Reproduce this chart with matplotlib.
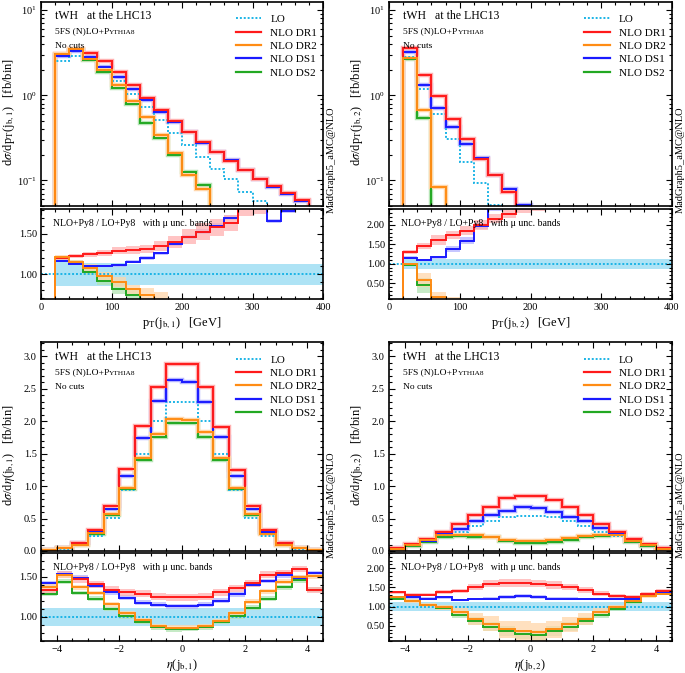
import numpy as np
import matplotlib
matplotlib.use("Agg")
import matplotlib.pyplot as plt
from matplotlib.lines import Line2D
from matplotlib.ticker import MultipleLocator, FormatStrFormatter, LogLocator, NullFormatter

plt.rcParams['font.family'] = ['Liberation Serif', 'DejaVu Serif']
plt.rcParams['mathtext.fontset'] = 'stix'
plt.rcParams['font.size'] = 7.5

# ---------------- data ----------------
pt_edges = list(range(0, 401, 20))
eta_edges = [-4.5, -4.0, -3.5, -3.0, -2.5, -2.0, -1.5, -1.0, -0.5, 0.0,
             0.5, 1.0, 1.5, 2.0, 2.5, 3.0, 3.5, 4.0, 4.5]

# pT(j_b,1)  [fb/bin]
pt1_lo = [0, 2.50, 2.91, 2.60, 2.00, 1.46, 1.03, 0.72, 0.51, 0.36, 0.26, 0.19, 0.137, 0.103, 0.074, 0.057, 0.04, 0.03, 0.025, 0.02]
pt1_dr1 = [0, 3.04, 3.51, 3.18, 2.50, 1.87, 1.33, 0.93, 0.68, 0.50, 0.37, 0.285, 0.215, 0.169, 0.133, 0.103, 0.086, 0.072, 0.059, 0.045]
pt1_dr2 = [0, 3.04, 3.51, 2.68, 2.00, 1.33, 0.866, 0.553, 0.34, 0.208, 0.116, 0.080, 0.03, 0.02, 0.02, 0.02, 0.02, 0.02, 0.02, 0.02]
pt1_ds1 = [0, 2.91, 3.36, 2.81, 2.18, 1.62, 1.19, 0.87, 0.64, 0.49, 0.37, 0.277, 0.215, 0.172, 0.133, 0.103, 0.084, 0.069, 0.057, 0.045]
pt1_ds2 = [0, 3.00, 3.42, 2.61, 1.86, 1.22, 0.79, 0.475, 0.317, 0.197, 0.126, 0.088, 0.03, 0.02, 0.02, 0.02, 0.02, 0.02, 0.02, 0.02]

# ratio NLO/LO for pT(j_b,1), with half-widths of the mu bands
r_pt1_dr1 = [0, 1.20, 1.225, 1.245, 1.265, 1.29, 1.30, 1.315, 1.35, 1.40, 1.465, 1.53, 1.58, 1.64, 1.86, 1.90, 2.05, 2.10, 2.20, 2.30]
w_pt1_dr1 = [0, 0.03, 0.03, 0.035, 0.04, 0.045, 0.05, 0.05, 0.06, 0.08, 0.09, 0.10, 0.10, 0.10, 0.14, 0.15, 0.20, 0.20, 0.20, 0.20]
r_pt1_ds1 = [0, 1.165, 1.125, 1.10, 1.10, 1.11, 1.155, 1.20, 1.26, 1.38, 1.465, 1.53, 1.60, 1.70, 1.85, 1.90, 1.655, 1.79, 1.95, 1.83]
w_pt1_ds1 = [0, 0.015, 0.015, 0.015, 0.015, 0.02, 0.02, 0.02, 0.02, 0.025, 0.025, 0.03, 0.03, 0.03, 0.04, 0.04, 0.025, 0.03, 0.04, 0.03]
r_pt1_dr2 = [0, 1.215, 1.15, 1.08, 0.975, 0.90, 0.81, 0.745, 0.62, 0.55, 0.4, 0.3, 0.3, 0.3, 0.3, 0.3, 0.3, 0.3, 0.3, 0.3]
w_pt1_dr2 = [0, 0.02, 0.03, 0.04, 0.05, 0.06, 0.06, 0.08, 0.16, 0.12, 0.1, 0.1, 0.1, 0.1, 0.1, 0.1, 0.1, 0.1, 0.1, 0.1]
r_pt1_ds2 = [0, 1.20, 1.14, 1.03, 0.92, 0.82, 0.745, 0.6, 0.4, 0.3, 0.3, 0.3, 0.3, 0.3, 0.3, 0.3, 0.3, 0.3, 0.3, 0.3]
w_pt1_ds2 = [0, 0.02, 0.03, 0.04, 0.05, 0.07, 0.08, 0.1, 0.1, 0.1, 0.1, 0.1, 0.1, 0.1, 0.1, 0.1, 0.1, 0.1, 0.1, 0.1]
lo_pt1_low = [1.0, 0.85, 0.85, 0.85, 0.85, 0.855, 0.86, 0.86, 0.87, 0.87, 0.87, 0.87, 0.87, 0.87, 0.87, 0.87, 0.87, 0.87, 0.87, 0.87]
lo_pt1_high = [1.0, 1.15, 1.15, 1.14, 1.14, 1.135, 1.13, 1.13, 1.125, 1.125, 1.125, 1.125, 1.125, 1.125, 1.125, 1.125, 1.125, 1.125, 1.125, 1.125]

# pT(j_b,2)  [fb/bin]
pt2_lo = [0, 2.85, 1.20, 0.61, 0.305, 0.166, 0.093, 0.052, 0.03, 0.02, 0.02, 0.02, 0.02, 0.02, 0.02, 0.02, 0.02, 0.02, 0.02, 0.02]
pt2_dr1 = [0, 3.64, 1.75, 0.97, 0.52, 0.305, 0.178, 0.117, 0.073, 0.03, 0.02, 0.02, 0.02, 0.02, 0.02, 0.02, 0.02, 0.02, 0.02, 0.02]
pt2_dr2 = [0, 2.73, 0.68, 0.083, 0.02, 0.02, 0.02, 0.02, 0.02, 0.02, 0.02, 0.02, 0.02, 0.02, 0.02, 0.02, 0.02, 0.02, 0.02, 0.02]
pt2_ds1 = [0, 3.21, 1.31, 0.70, 0.42, 0.267, 0.183, 0.117, 0.08, 0.052, 0.03, 0.02, 0.02, 0.02, 0.02, 0.02, 0.02, 0.02, 0.02, 0.02]
pt2_ds2 = [0, 2.68, 0.54, 0.02, 0.02, 0.02, 0.02, 0.02, 0.02, 0.02, 0.02, 0.02, 0.02, 0.02, 0.02, 0.02, 0.02, 0.02, 0.02, 0.02]

r_pt2_dr1 = [0, 1.31, 1.46, 1.61, 1.735, 1.85, 1.99, 2.16, 2.29, 2.60, 2.70, 3.0, 3.0, 3.0, 3.0, 3.0, 3.0, 3.0, 3.0, 3.0]
w_pt2_dr1 = [0, 0.05, 0.07, 0.12, 0.10, 0.12, 0.13, 0.12, 0.10, 0.30, 0.35, 0.1, 0.1, 0.1, 0.1, 0.1, 0.1, 0.1, 0.1, 0.1]
r_pt2_ds1 = [0, 1.15, 1.094, 1.16, 1.385, 1.59, 1.97, 2.45, 2.80, 3.0, 3.0, 3.0, 3.0, 3.0, 3.0, 3.0, 3.0, 3.0, 3.0, 3.0]
w_pt2_ds1 = [0, 0.04, 0.03, 0.04, 0.08, 0.09, 0.08, 0.08, 0.1, 0.1, 0.1, 0.1, 0.1, 0.1, 0.1, 0.1, 0.1, 0.1, 0.1, 0.1]
r_pt2_dr2 = [0, 1.00, 0.58, 0.14, 0.05, 0.0, 0.0, 0.0, 0.0, 0.0, 0.0, 0.0, 0.0, 0.0, 0.0, 0.0, 0.0, 0.0, 0.0, 0.0]
w_pt2_dr2 = [0, 0.03, 0.17, 0.13, 0.10, 0.0, 0.0, 0.0, 0.0, 0.0, 0.0, 0.0, 0.0, 0.0, 0.0, 0.0, 0.0, 0.0, 0.0, 0.0]
r_pt2_ds2 = [0, 0.97, 0.44, 0.05, 0.0, 0.0, 0.0, 0.0, 0.0, 0.0, 0.0, 0.0, 0.0, 0.0, 0.0, 0.0, 0.0, 0.0, 0.0, 0.0]
w_pt2_ds2 = [0, 0.04, 0.20, 0.05, 0.0, 0.0, 0.0, 0.0, 0.0, 0.0, 0.0, 0.0, 0.0, 0.0, 0.0, 0.0, 0.0, 0.0, 0.0, 0.0]
lo_pt2_low = [1.0, 0.87, 0.87, 0.87, 0.87, 0.87, 0.87, 0.87, 0.87, 0.87, 0.87, 0.87, 0.87, 0.87, 0.87, 0.87, 0.87, 0.87, 0.87, 0.87]
lo_pt2_high = [1.0, 1.12, 1.12, 1.12, 1.12, 1.12, 1.12, 1.12, 1.12, 1.12, 1.12, 1.12, 1.12, 1.12, 1.12, 1.12, 1.12, 1.12, 1.12, 1.12]

# eta(j_b,1)  [fb/bin]
eta1_lo = [0.01, 0.03, 0.10, 0.23, 0.51, 0.94, 1.49, 2.00, 2.30, 2.30, 2.00, 1.49, 0.94, 0.51, 0.23, 0.10, 0.03, 0.01]
eta1_dr1 = [0.015, 0.05, 0.13, 0.32, 0.69, 1.26, 1.92, 2.53, 2.876, 2.887, 2.52, 1.91, 1.25, 0.70, 0.32, 0.13, 0.05, 0.015]
eta1_dr2 = [0.01, 0.04, 0.09, 0.27, 0.57, 0.97, 1.43, 1.81, 2.03, 2.02, 1.83, 1.44, 0.97, 0.57, 0.26, 0.09, 0.04, 0.01]
eta1_ds1 = [0.015, 0.045, 0.12, 0.30, 0.645, 1.155, 1.74, 2.31, 2.63, 2.61, 2.29, 1.76, 1.16, 0.65, 0.30, 0.12, 0.05, 0.015]
eta1_ds2 = [0.01, 0.04, 0.09, 0.26, 0.56, 0.96, 1.40, 1.75, 1.97, 1.97, 1.75, 1.40, 0.95, 0.56, 0.27, 0.09, 0.04, 0.01]

r_eta1_dr1 = [1.34, 1.53, 1.47, 1.41, 1.34, 1.31, 1.29, 1.255, 1.245, 1.245, 1.255, 1.31, 1.36, 1.42, 1.53, 1.55, 1.60, 1.34]
w_eta1_dr1 = [0.04, 0.04, 0.04, 0.045, 0.045, 0.045, 0.045, 0.045, 0.045, 0.045, 0.045, 0.045, 0.045, 0.045, 0.045, 0.04, 0.04, 0.04]
r_eta1_ds1 = [1.42, 1.54, 1.49, 1.39, 1.31, 1.24, 1.18, 1.155, 1.135, 1.135, 1.155, 1.205, 1.285, 1.40, 1.45, 1.52, 1.49, 1.55]
w_eta1_ds1 = [0.03, 0.03, 0.03, 0.03, 0.03, 0.03, 0.03, 0.03, 0.03, 0.03, 0.03, 0.03, 0.03, 0.03, 0.03, 0.03, 0.03, 0.03]
r_eta1_dr2 = [1.38, 1.52, 1.37, 1.30, 1.16, 1.05, 0.96, 0.885, 0.865, 0.865, 0.885, 0.95, 1.05, 1.19, 1.32, 1.44, 1.50, 1.51]
w_eta1_dr2 = [0.03, 0.03, 0.03, 0.03, 0.03, 0.03, 0.03, 0.03, 0.03, 0.03, 0.03, 0.03, 0.03, 0.03, 0.03, 0.03, 0.03, 0.03]
r_eta1_ds2 = [1.29, 1.44, 1.30, 1.23, 1.10, 1.01, 0.94, 0.87, 0.845, 0.85, 0.87, 0.94, 1.01, 1.115, 1.23, 1.37, 1.46, 1.34]
w_eta1_ds2 = [0.03, 0.03, 0.03, 0.03, 0.03, 0.03, 0.03, 0.03, 0.03, 0.03, 0.03, 0.03, 0.03, 0.03, 0.03, 0.03, 0.03, 0.03]
lo_eta1_low = [0.885] * 18
lo_eta1_high = [1.115] * 18

# eta(j_b,2)  [fb/bin]
eta2_lo = [0.04, 0.085, 0.145, 0.23, 0.30, 0.39, 0.455, 0.52, 0.54, 0.54, 0.52, 0.455, 0.39, 0.30, 0.23, 0.145, 0.085, 0.04]
eta2_dr1 = [0.05, 0.11, 0.19, 0.29, 0.41, 0.55, 0.68, 0.81, 0.84, 0.84, 0.78, 0.68, 0.55, 0.41, 0.29, 0.18, 0.11, 0.05]
eta2_dr2 = [0.035, 0.09, 0.17, 0.24, 0.25, 0.25, 0.22, 0.17, 0.16, 0.155, 0.17, 0.20, 0.23, 0.25, 0.25, 0.16, 0.09, 0.035]
eta2_ds1 = [0.04, 0.095, 0.16, 0.26, 0.34, 0.455, 0.55, 0.62, 0.68, 0.66, 0.60, 0.52, 0.455, 0.36, 0.26, 0.16, 0.095, 0.04]
eta2_ds2 = [0.03, 0.08, 0.145, 0.21, 0.23, 0.22, 0.21, 0.155, 0.13, 0.12, 0.145, 0.17, 0.21, 0.23, 0.24, 0.145, 0.08, 0.03]

r_eta2_dr1 = [1.37, 1.31, 1.31, 1.37, 1.41, 1.50, 1.60, 1.62, 1.61, 1.60, 1.56, 1.50, 1.43, 1.34, 1.28, 1.26, 1.34, 1.41]
w_eta2_dr1 = [0.04, 0.04, 0.04, 0.05, 0.06, 0.08, 0.10, 0.10, 0.10, 0.10, 0.10, 0.08, 0.07, 0.06, 0.05, 0.04, 0.04, 0.04]
r_eta2_ds1 = [1.24, 1.24, 1.21, 1.24, 1.18, 1.20, 1.21, 1.24, 1.28, 1.24, 1.21, 1.21, 1.20, 1.20, 1.21, 1.21, 1.30, 1.37]
w_eta2_ds1 = [0.03, 0.03, 0.03, 0.03, 0.03, 0.03, 0.04, 0.05, 0.05, 0.05, 0.04, 0.03, 0.03, 0.03, 0.03, 0.03, 0.03, 0.03]
r_eta2_dr2 = [1.24, 1.15, 1.05, 0.98, 0.855, 0.68, 0.555, 0.41, 0.36, 0.325, 0.41, 0.54, 0.68, 0.855, 0.98, 1.15, 1.28, 1.34]
w_eta2_dr2 = [0.04, 0.05, 0.05, 0.06, 0.10, 0.15, 0.20, 0.22, 0.25, 0.25, 0.22, 0.20, 0.15, 0.10, 0.06, 0.05, 0.05, 0.04]
r_eta2_ds2 = [1.21, 1.15, 1.03, 0.97, 0.77, 0.62, 0.47, 0.36, 0.28, 0.255, 0.36, 0.47, 0.62, 0.79, 0.94, 1.11, 1.31, 1.33]
w_eta2_ds2 = [0.03, 0.04, 0.05, 0.06, 0.08, 0.10, 0.12, 0.12, 0.12, 0.12, 0.12, 0.12, 0.10, 0.08, 0.06, 0.05, 0.04, 0.03]
lo_eta2_low = [0.88] * 18
lo_eta2_high = [1.12] * 18

labels = ['LO', 'NLO DR1', 'NLO DR2', 'NLO DS1', 'NLO DS2']

# ---------------- style ----------------
c_lo, c_dr1, c_dr2, c_ds1, c_ds2 = '#1cb4e6', '#ff1a1a', '#ff8c14', '#1a1aff', '#22a822'
b_lo, b_dr1, b_dr2, b_ds1, b_ds2 = '#aee3f5', '#ffb0b0', '#ffd6aa', '#b4b4ff', '#b4e4b4'

W, H = 685, 673
fig = plt.figure(figsize=(W / 100, H / 100), dpi=100)


def rect(l, r, t, b):
    return [l / W, 1 - b / H, (r - l) / W, (b - t) / H]


def style_axes(ax):
    for s in ax.spines.values():
        s.set_linewidth(1.2)
    ax.tick_params(which='both', direction='in', top=True, right=True, width=0.8, labelsize=7.5, pad=3)
    ax.tick_params(which='major', length=4)
    ax.tick_params(which='minor', length=2)


def main_panel(ax, edges, lo, dr1, dr2, ds1, ds2):
    for vals, bc in [(ds2, b_ds2), (ds1, b_ds1), (dr1, b_dr1), (dr2, b_dr2)]:
        ax.stairs(vals, edges, baseline=None, color=bc, lw=3.2)
    ax.stairs(lo, edges, baseline=None, color=c_lo, lw=1.4, ls=(0, (1, 1)))
    for vals, c in [(ds2, c_ds2), (ds1, c_ds1), (dr1, c_dr1), (dr2, c_dr2)]:
        ax.stairs(vals, edges, baseline=None, color=c, lw=1.4)
    handles = [Line2D([], [], color=c_lo, lw=1.4, ls=(0, (1, 1))),
               Line2D([], [], color=c_dr1, lw=1.6),
               Line2D([], [], color=c_dr2, lw=1.6),
               Line2D([], [], color=c_ds1, lw=1.6),
               Line2D([], [], color=c_ds2, lw=1.6)]
    ax.legend(handles, labels, loc='upper left', bbox_to_anchor=(0.675, 0.96), frameon=False,
              fontsize=8, handlelength=2.3, handletextpad=0.8, labelspacing=0.32, borderaxespad=0)
    ax.text(0.05, 0.93, 'tWH   at the LHC13', transform=ax.transAxes, fontsize=8.5, va='center')
    t = ax.text(0.05, 0.855, '5FS (N)LO+P', transform=ax.transAxes, fontsize=6.8, va='center')
    ax.annotate('YTHIA8', xy=(1, 0), xycoords=t, xytext=(0, 0.2), textcoords='offset points',
                fontsize=5.3, va='bottom', ha='left')
    ax.text(0.05, 0.785, 'No cuts', transform=ax.transAxes, fontsize=6.8, va='center')
    ax.text(1.028, -0.035, 'MadGraph5_aMC@NLO', transform=ax.transAxes, rotation=90,
            fontsize=7.5, ha='center', va='bottom', clip_on=False)
    ax.tick_params(labelbottom=False)


def ratio_panel(ax, edges, lo_low, lo_high, rs, ws):
    ax.stairs(lo_high, edges, baseline=lo_low, fill=True, color=b_lo, lw=0)
    for (r, w), bc in zip(zip(rs, ws), [b_ds2, b_ds1, b_dr1, b_dr2]):
        r = np.array(r)
        w = np.array(w)
        ax.stairs(r + w, edges, baseline=r - w, fill=True, color=bc, alpha=0.75, lw=0)
    ax.stairs([1.0] * len(lo_low), edges, baseline=None, color=c_lo, lw=1.4, ls=(0, (1, 1)))
    for r, c in zip(rs, [c_ds2, c_ds1, c_dr1, c_dr2]):
        ax.stairs(r, edges, baseline=None, color=c, lw=1.4)
    ax.text(0.043, 0.84, 'NLO+Py8 / LO+Py8   with \u03bc unc. bands', transform=ax.transAxes,
            fontsize=7, va='center')
    ax.yaxis.set_major_locator(MultipleLocator(0.5))
    ax.yaxis.set_major_formatter(FormatStrFormatter('%.2f'))
    ax.yaxis.set_minor_locator(MultipleLocator(0.1))


panels = [
    dict(l=41, r=323, top=(2, 206), bot=(209, 299), edges=pt_edges, log=True,
         main=(pt1_lo, pt1_dr1, pt1_dr2, pt1_ds1, pt1_ds2),
         rs=(r_pt1_ds2, r_pt1_ds1, r_pt1_dr1, r_pt1_dr2), ws=(w_pt1_ds2, w_pt1_ds1, w_pt1_dr1, w_pt1_dr2),
         lob=(lo_pt1_low, lo_pt1_high), rlim=(0.69, 1.81), sub='1', var='pt'),
    dict(l=389, r=672, top=(2, 206), bot=(209, 299), edges=pt_edges, log=True,
         main=(pt2_lo, pt2_dr1, pt2_dr2, pt2_ds1, pt2_ds2),
         rs=(r_pt2_ds2, r_pt2_ds1, r_pt2_dr1, r_pt2_dr2), ws=(w_pt2_ds2, w_pt2_ds1, w_pt2_dr1, w_pt2_dr2),
         lob=(lo_pt2_low, lo_pt2_high), rlim=(0.09, 2.41), sub='2', var='pt'),
    dict(l=41, r=323, top=(342, 551), bot=(553, 641), edges=eta_edges, log=False,
         main=(eta1_lo, eta1_dr1, eta1_dr2, eta1_ds1, eta1_ds2),
         rs=(r_eta1_ds2, r_eta1_ds1, r_eta1_dr1, r_eta1_dr2), ws=(w_eta1_ds2, w_eta1_ds1, w_eta1_dr1, w_eta1_dr2),
         lob=(lo_eta1_low, lo_eta1_high), rlim=(0.70, 1.80), sub='1', var='eta'),
    dict(l=389, r=672, top=(342, 551), bot=(553, 641), edges=eta_edges, log=False,
         main=(eta2_lo, eta2_dr1, eta2_dr2, eta2_ds1, eta2_ds2),
         rs=(r_eta2_ds2, r_eta2_ds1, r_eta2_dr1, r_eta2_dr2), ws=(w_eta2_ds2, w_eta2_ds1, w_eta2_dr1, w_eta2_dr2),
         lob=(lo_eta2_low, lo_eta2_high), rlim=(0.10, 2.40), sub='2', var='eta'),
]

for p in panels:
    axm = fig.add_axes(rect(p['l'], p['r'], *p['top']))
    axr = fig.add_axes(rect(p['l'], p['r'], *p['bot']))
    style_axes(axm)
    style_axes(axr)
    main_panel(axm, p['edges'], *p['main'])
    ratio_panel(axr, p['edges'], p['lob'][0], p['lob'][1], p['rs'], p['ws'])
    axr.set_ylim(*p['rlim'])
    jet = r'j$_{\mathrm{b},' + p['sub'] + '}$'
    if p['var'] == 'pt':
        for a in (axm, axr):
            a.set_xlim(0, 400)
            a.xaxis.set_major_locator(MultipleLocator(100))
            a.xaxis.set_minor_locator(MultipleLocator(20))
        axm.set_yscale('log')
        axm.set_ylim(0.05, 12.5)
        axm.yaxis.set_minor_locator(LogLocator(base=10, subs=range(2, 10)))
        axm.yaxis.set_minor_formatter(NullFormatter())
        axm.set_ylabel(r'd$\sigma$/dp$_\mathrm{T}$(' + jet + ')   [fb/bin]', fontsize=9)
        axr.set_xlabel(r'p$_\mathrm{T}$(' + jet + ')   [GeV]', fontsize=9, labelpad=2)
    else:
        for a in (axm, axr):
            a.set_xlim(-4.5, 4.5)
            a.xaxis.set_major_locator(MultipleLocator(2))
            a.xaxis.set_minor_locator(MultipleLocator(0.5))
        axm.set_ylim(0, 3.22)
        axm.yaxis.set_major_locator(MultipleLocator(0.5))
        axm.yaxis.set_minor_locator(MultipleLocator(0.1))
        axm.yaxis.set_major_formatter(FormatStrFormatter('%.1f'))
        axm.set_ylabel(r'd$\sigma$/d$\eta$(' + jet + ')   [fb/bin]', fontsize=9)
        axr.set_xlabel(r'$\eta$(' + jet + ')', fontsize=9, labelpad=2)
    axm.yaxis.set_label_coords(-0.085, 0.46)

fig.savefig('out.png', dpi=100)
